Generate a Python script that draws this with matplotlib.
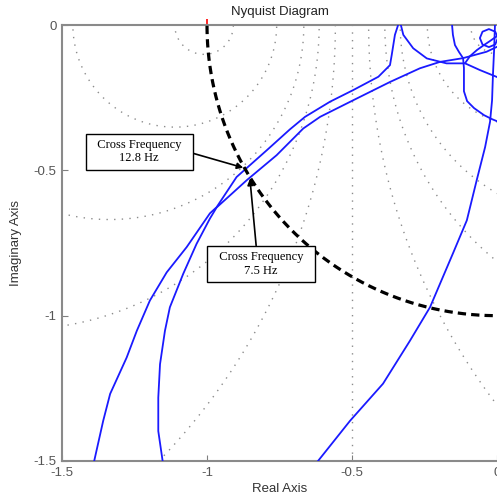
import numpy as np
import matplotlib
matplotlib.use("Agg")
import matplotlib.pyplot as plt

plt.rcParams['font.family'] = ['Liberation Sans', 'DejaVu Sans']

# branches of the Nyquist plot (real, imag)
a_re = [-1.389, -1.358, -1.334, -1.277, -1.242, -1.197, -1.139, -1.070, -0.990, -0.967, -0.898, -0.794,
        -0.714, -0.662, -0.576, -0.496, -0.409, -0.369, -0.363, -0.352, -0.341, -0.334, -0.323, -0.289,
        -0.242, -0.174, -0.110, -0.059, 0.0]
a_im = [-1.500, -1.362, -1.269, -1.144, -1.052, -0.948, -0.851, -0.764, -0.648, -0.627, -0.523, -0.431,
        -0.359, -0.316, -0.264, -0.224, -0.178, -0.138, -0.103, -0.034, 0.0, 0.010, -0.034, -0.080,
        -0.115, -0.132, -0.132, -0.155, -0.179]
b_re = [-1.153, -1.168, -1.168, -1.162, -1.145, -1.128, -1.082, -1.036, -0.990, -0.967, -0.863, -0.760,
        -0.668, -0.610, -0.496, -0.369, -0.266, -0.197, -0.117, -0.036, 0.0]
b_im = [-1.500, -1.397, -1.282, -1.167, -1.052, -0.971, -0.856, -0.753, -0.666, -0.628, -0.534, -0.448,
        -0.356, -0.316, -0.259, -0.196, -0.149, -0.127, -0.114, -0.092, -0.075]
c_re = [-0.622, -0.507, -0.393, -0.300, -0.231, -0.152, -0.104, -0.070, -0.041, -0.024, -0.017, -0.014,
        -0.010, -0.007]
c_im = [-1.506, -1.362, -1.234, -1.086, -0.971, -0.786, -0.672, -0.534, -0.420, -0.333, -0.259, -0.172,
        -0.086, 0.0]
d_re = [-0.155, -0.152, -0.145, -0.131, -0.117, -0.114, -0.114, -0.114, -0.103, -0.079, -0.045, -0.017, 0.0]
d_im = [0.0, -0.034, -0.069, -0.093, -0.114, -0.148, -0.190, -0.228, -0.262, -0.286, -0.310, -0.324, -0.331]
e_re = [-0.110, -0.093, -0.069, -0.045, -0.024, 0.0]
e_im = [-0.131, -0.107, -0.086, -0.069, -0.055, -0.038]
f_re = [0.003, -0.006, -0.028, -0.050, -0.059, -0.050, -0.028, -0.006, 0.003]
f_im = [-0.045, -0.023, -0.014, -0.023, -0.045, -0.067, -0.076, -0.067, -0.045]
branches = [(a_re, a_im), (b_re, b_im), (c_re, c_im), (d_re, d_im), (e_re, e_im), (f_re, f_im)]

grid_db = [-20, -10, -6, -4, -2, 2, 4, 6, 10, 20]
ticks = [-1.5, -1, -0.5, 0]
tick_labels = ['-1.5', '-1', '-0.5', '0']

cross_names = ['12.8 Hz', '7.5 Hz']
cross_re = [-0.875, -0.852]
cross_im = [-0.491, -0.529]

fig = plt.figure(figsize=(4.97, 4.97), dpi=100)
ax = fig.add_axes([62/497, 36/497, 435/497, 436/497])
ax.set_xlim(-1.5, 0); ax.set_ylim(-1.5, 0)

# M-circles (MATLAB style grid)
t = np.linspace(0, 2*np.pi, 720)
for db in grid_db:
    m = 10**(db/20)
    c = -m**2/(m**2 - 1); r = abs(m/(m**2 - 1))
    ax.plot(c + r*np.cos(t), r*np.sin(t), color='#8c8c8c', lw=1.0, ls=(0, (1, 4.5)), zorder=1)
ax.axvline(-0.5, color='#8c8c8c', lw=1.0, ls=(0, (1, 4.5)), zorder=1)

for re, im in branches:
    ax.plot(re, im, color='#1a1aff', lw=1.3, zorder=3)

# unit circle
ax.plot(np.cos(t), np.sin(t), color='black', lw=2.3, dashes=(2.6, 1.6), zorder=4)
ax.plot([-1], [0], marker='|', color='red', ms=9, mew=1.2, clip_on=False, zorder=1)

boxes = [(-1.234, -0.436, (1.0, 0.5)), (-0.814, -0.822, (0.456, 1.0))]
for name, x, y, (bx, by, rp) in zip(cross_names, cross_re, cross_im, boxes):
    ax.annotate('  Cross Frequency  \n' + name, xy=(x, y), xytext=(bx, by), ha='center', va='center',
                fontsize=9, family=['Liberation Serif', 'DejaVu Serif'], linespacing=1.15, zorder=6,
                bbox=dict(boxstyle='square,pad=0.42', fc='white', ec='black', lw=1.0),
                arrowprops=dict(arrowstyle='-|>', color='black', lw=1.2, mutation_scale=9,
                                shrinkA=0, shrinkB=0, relpos=rp))

ax.set_xticks(ticks); ax.set_xticklabels(tick_labels)
ax.set_yticks(ticks); ax.set_yticklabels(tick_labels)
ax.tick_params(direction='in', length=4, color='#808080', labelcolor='#555555', labelsize=9.5, pad=4)
for s in ['left', 'bottom', 'top']:
    ax.spines[s].set_color('#8a8a8a'); ax.spines[s].set_linewidth(1.5)
ax.spines['right'].set_visible(False)
ax.set_title('Nyquist Diagram', fontsize=9.5, color='#222222', pad=7)
ax.set_xlabel('Real Axis', fontsize=9.5, color='#333333', labelpad=3)
ax.set_ylabel('Imaginary Axis', fontsize=9.5, color='#333333', labelpad=8)

fig.savefig('out.png', dpi=100)
